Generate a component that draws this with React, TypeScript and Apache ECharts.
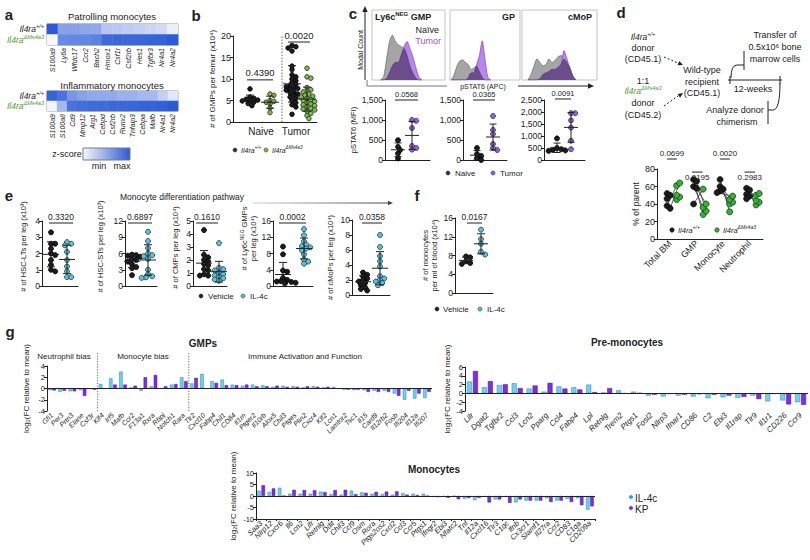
import React, { useEffect, useRef } from 'react';
import * as echarts from 'echarts';

const FF = '"Liberation Sans", Arial, Helvetica, sans-serif';
const AX = '#222222';
const GREEN_TXT = '#4f9a2f';
const BLACK_PT = '#1c1c1c';
const GREEN_PT_B = '#7cc242';
const GREEN_PT_D = '#34b233';
const CYAN_PT = '#5cc3dc';
const PURPLE_PT = '#9b5de5';
const CYAN_BAR = '#6dd0f0';
const PURPLE_BAR = '#7a2fe2';

// ---------- Panel a : heatmaps ----------
const genotypeRows = ['wt', 'ko'];
const patrolGenes = ['S100a9', 'Ly6a', 'Wfdc17', 'Ccr2', 'Bach2', 'Hmox1', 'Csf1r', 'Csf2rb', 'Hes1', 'Tgfbr3', 'Nr4a1', 'Nr4a2'];
const patrolWT = [1.0, 0.55, 0.55, 0.52, 0.5, 0.32, 0.3, 0.28, 0.25, 0.22, 0.18, 0.05];
const patrolKO = [0.0, 0.7, 0.72, 0.72, 0.75, 0.9, 0.92, 0.92, 0.93, 0.95, 0.95, 1.0];
const inflamGenes = ['S100a9', 'S100a8', 'Cd9', 'Mmp12', 'Arg1', 'Cebpd', 'Csf2rb', 'Runx2', 'Tnfaip3', 'Cebpa', 'Mafb', 'Nr4a1', 'Nr4a2'];
const inflamWT = [0.95, 0.85, 0.62, 0.55, 0.5, 0.5, 0.5, 0.45, 0.45, 0.4, 0.4, 0.25, 0.1];
const inflamKO = [0.02, 0.4, 0.85, 0.88, 0.9, 0.9, 0.92, 0.92, 0.93, 0.95, 0.95, 0.97, 1.0];

// ---------- Panel b ----------
const bCategories = ['Naive', 'Tumor'];
const bNaiveWT = [7.7, 5.8, 5.5, 5.3, 5.1, 5.0, 4.9, 4.6, 4.3, 3.8];
const bNaiveKO = [6.5, 6.2, 5.0, 4.8, 4.6, 4.2, 3.3, 2.2];
const bTumorWT = [17.8, 17.5, 17.2, 16.5, 13.0, 12.2, 11.0, 10.5, 10.0, 9.6, 9.2, 8.8, 8.5, 8.2, 8.0, 7.8, 7.6, 7.4, 7.0, 6.8, 6.5, 6.2, 5.8, 5.5, 5.0, 4.5, 4.0, 3.5, 1.8];
const bTumorKO = [12.5, 10.5, 10.2, 8.0, 7.5, 7.2, 7.0, 6.5, 6.2, 6.0, 5.8, 5.5, 5.2, 5.0, 4.8, 4.5, 4.2, 4.0, 3.8, 3.5, 3.2, 3.0, 2.8, 2.5, 2.0, 1.5, 0.8];
const bPvals = ['0.4390', '0.0020'];

// ---------- Panel c ----------
const hGmpX = [0.12, 0.16, 0.2, 0.24, 0.28, 0.32, 0.36, 0.4, 0.44, 0.48, 0.52, 0.56, 0.6, 0.64, 0.68];
const hGmpNaive = [0, 0.05, 0.3, 0.55, 0.64, 0.55, 0.5, 0.48, 0.45, 0.35, 0.2, 0.1, 0.03, 0, 0];
const hGmpTumor = [0, 0, 0.02, 0.1, 0.2, 0.25, 0.25, 0.35, 0.48, 0.55, 0.45, 0.33, 0.18, 0.05, 0];
const hGpX = [0.02, 0.06, 0.1, 0.14, 0.18, 0.22, 0.26, 0.3, 0.34, 0.38, 0.42, 0.46, 0.5, 0.54, 0.58];
const hGpNaive = [0, 0.08, 0.2, 0.27, 0.29, 0.25, 0.22, 0.15, 0.17, 0.2, 0.12, 0.04, 0, 0, 0];
const hGpTumor = [0, 0, 0, 0, 0, 0, 0.03, 0.1, 0.1, 0.22, 0.35, 0.56, 0.3, 0.04, 0];
const hMopX = [0.08, 0.12, 0.16, 0.2, 0.24, 0.28, 0.32, 0.36, 0.4, 0.44, 0.48, 0.52, 0.56, 0.6, 0.64, 0.68, 0.72];
const hMopNaive = [0, 0.08, 0.2, 0.3, 0.25, 0.2, 0.22, 0.3, 0.25, 0.28, 0.33, 0.35, 0.3, 0.25, 0.18, 0.05, 0];
const hMopTumor = [0, 0, 0, 0, 0.02, 0.08, 0.1, 0.12, 0.15, 0.15, 0.18, 0.22, 0.42, 0.3, 0.15, 0.05, 0];
const cMfiNaive = [[495, 330, 250, 165, 40], [300, 150, 100, 50, 0], [900, 500, 450, 420, 400, 380]];
const cMfiTumor = [[1000, 980, 800, 350, 300, 260], [1100, 750, 650, 400, 300, 250], [1950, 1950, 1650, 1350, 800, 450]];
const cYMax = [1500, 1500, 2500];
const cPvals = ['0.0568', '0.0365', '0.0091'];

// ---------- Panel d ----------
const dCategories = ['Total BM', 'GMP', 'Monocyte', 'Neutrophil'];
const dWT = [[52, 50, 46, 38, 35], [68, 66, 60, 58, 40], [68, 60, 57, 55, 53], [58, 56, 51, 49, 46]];
const dKO = [[45, 48, 50, 61, 64], [28, 32, 36, 40, 57], [31, 40, 42, 45, 49], [39, 42, 44, 50, 52]];
const dPvals = ['0.0699', '0.0195', '0.0020', '0.2983'];

// ---------- Panel e / f ----------
const eNames = ['# of HSC-LTs per leg (x10³)', '# of HSC-STs per leg (x10³)', '# of CMPs per leg (x10⁴)', '# of Ly6c{s|NEG} GMPs\nper leg (x10⁴)', '# of cMoPs per leg (x10⁴)'];
const eYMax = [4, 12, 5, 16, 10];
const eYInterval = [1, 3, 1, 4, 2];
const eVehicle = [
  [3.3, 2.6, 2.6, 2.3, 2.0, 1.9, 1.6, 1.3, 1.0, 0.9],
  [5.8, 5.7, 5.6, 5.4, 5.2, 5.0, 4.8, 4.5, 4.0, 3.5, 3.3, 2.0],
  [4.3, 2.4, 2.2, 2.0, 1.9, 1.7, 1.6, 1.3, 1.2, 0.9, 0.8, 0.8],
  [9.7, 7.8, 3.8, 3.5, 2.0, 1.5, 1.2, 1.1, 1.0, 0.9, 0.8, 0.7],
  [3.0, 2.7, 2.5, 2.2, 2.0, 1.8, 1.6, 1.3, 1.0, 0.8, 0.6],
];
const eIL4c = [
  [2.7, 2.6, 2.5, 2.1, 1.6, 1.2, 0.9, 0.55, 0.55],
  [10.0, 8.3, 7.0, 6.0, 5.7, 5.5, 5.0, 3.0, 2.2, 1.8, 1.6, 1.5],
  [3.3, 1.4, 1.3, 1.2, 1.0, 0.9, 0.8, 0.7, 0.6, 0.5, 0.4],
  [14.0, 12.5, 11.0, 10.2, 9.8, 9.5, 9.2, 8.8, 7.8, 6.5, 6.0, 5.5],
  [8.0, 6.4, 5.2, 4.5, 3.8, 2.5, 2.2, 2.0, 1.8, 1.6, 1.3],
];
const ePvals = ['0.3320', '0.6897', '0.1610', '0.0002', '0.0358'];
const fVehicle = [7.8, 7.6, 6.8, 6.4, 6.2];
const fIL4c = [13.5, 11.5, 10.5, 8.8, 8.2];
const fPval = '0.0167';

// ---------- Panel g ----------
const gmpGenes = ['Gfi1', 'Per3', 'Prtn3', 'Elane', 'Csf3r', 'Klf4', 'Irf5', 'Mafb', 'Ccr2', 'F13a1', 'Rxra', 'Rbpj', 'Notch1', 'Rara', 'Tlr2', 'Cxcl10', 'Fabp4', 'Chil1', 'CD84', 'Il1rn', 'Ptger2', 'Il10rb', 'Alox5', 'Chil3', 'Ptges', 'Plin2', 'Cxcr4', 'Klf2', 'Lcn1', 'Lamtor2', 'Tsc1', 'Il15', 'Card9', 'Il12rb2', 'Fosb', 'Ifi204', 'Il12a', 'Ifi207'];
const gmpIL4c = [-0.3, -0.6, -0.5, -0.3, -0.05, 0.8, 1.8, 3.0, 0.2, -0.4, 0.4, 0.05, 0.7, 2.0, 0.9, 2.6, 1.3, 1.6, 0.7, 0.5, 0.7, 0.6, 0.3, 0.5, 0.4, 0.2, 0.4, 0.2, 0.3, -0.2, -0.3, -0.3, -0.4, -0.4, -0.9, -2.0, -1.8, -1.7];
const gmpKP = [-0.35, -0.4, -0.5, -1.3, -0.2, 0.0, 0.7, 0.7, 0.5, 2.0, 2.4, 0.4, 0.8, 1.3, 1.9, 0.0, 1.0, 0.6, 0.6, 0.7, 0.4, 0.4, 0.5, 0.3, 0.3, 0.4, 0.3, 0.3, 0.0, -0.2, -0.2, -0.6, -0.6, -0.6, -1.3, -0.4, -0.9, -0.6];
const gmpGroupBounds = [5, 14];
const preGenes = ['Lilr', 'Dgat2', 'Tgfbr2', 'Ccl3', 'Lcn2', 'Pparg', 'Ccl4', 'Fabp4', 'Lpl', 'Retnlg', 'Trem2', 'Ptgs1', 'Fosl2', 'Nlrp3', 'Ifnar1', 'CD86', 'C2', 'Ebi3', 'Il1rap', 'Tlr9', 'Il1r1', 'CD226', 'Ccr9'];
const preIL4c = [2.7, 1.4, 1.9, 2.3, 1.1, 0.4, 1.6, 1.4, 2.0, 0.2, 0.7, 0.4, -0.5, -0.7, -0.5, -0.7, -1.1, -0.9, -1.0, -0.5, -1.8, -1.6, -2.0];
const preKP = [5.1, 2.8, 2.1, 1.2, 1.8, 2.4, 1.1, 0.9, 0.3, 1.2, 0.0, 0.1, -0.3, -0.1, -0.3, -0.2, -0.3, -0.5, -0.8, -1.3, -0.1, -2.5, -2.6];
const monoGenes = ['Saa3', 'Nlrp12', 'Cxcr6', 'Il6', 'Lcn2', 'Lifr', 'Retnlg', 'Ddit', 'Chil3', 'Ccl9', 'Osm', 'Rora', 'Ptgs2os2', 'Cxcl2', 'Ccl3', 'Ccr5', 'Ptgs1', 'Ifngr2', 'Ebi3', 'Nfatc2', 'Tnf', 'Il12a', 'Cxcl16', 'Tlr3', 'C1qc', 'Ifnb', 'Cx3cr1', 'Slamf1', 'Il27ra', 'Ccr2', 'CD83', 'C1qa', 'CD209a'];
const monoIL4c = [2.3, 1.8, 3.6, 1.0, 1.0, 1.0, 1.9, 0.8, 0.6, 2.3, 1.6, 1.0, 0.9, 0.6, 1.3, 1.0, 1.0, -0.4, -0.3, -0.1, -1.2, -1.8, -0.3, -1.5, -0.4, -2.8, -2.0, -2.0, -1.0, -2.0, -1.3, -1.0, -6.0];
const monoKP = [4.7, 3.3, 0.0, 2.7, 2.6, 2.5, 1.7, 2.6, 2.7, 0.8, 1.4, 1.8, 1.9, 2.0, 0.6, 0.4, 0.0, -0.5, -0.8, -1.4, -0.9, -0.8, -2.8, -1.5, -3.0, -1.5, -2.0, -2.0, -2.6, -2.0, -2.6, -4.0, -4.5];

// ---------- helpers ----------
const avg = (a: number[]) => a.reduce((s, v) => s + v, 0) / a.length;
const sdev = (a: number[]) => { const m = avg(a); return Math.sqrt(a.reduce((s, v) => s + (v - m) * (v - m), 0) / (a.length - 1)); };

function swarm(values: number[], ppu: number, d: number): number[] {
  const placed: number[][] = [];
  return values.map((v) => {
    const y = v * ppu;
    let off = 0;
    for (let k = 0; k < 40; k++) {
      const c = k === 0 ? 0 : (k % 2 ? 1 : -1) * Math.ceil(k / 2) * d * 0.42;
      if (placed.every((p) => (p[0] - c) ** 2 + (p[1] - y) ** 2 >= (d * 0.72) ** 2)) { off = c; break; }
    }
    placed.push([off, y]);
    return off;
  });
}

function richSet(size: number, italic: boolean, bold: boolean) {
  const mk = (color: string) => {
    const base: any = { fontSize: size, fontFamily: FF, fontStyle: italic ? 'italic' : 'normal', fontWeight: bold ? 'bold' : 'normal', color, fill: color, lineHeight: Math.round(size * 1.45) };
    const sup: any = { ...base, fontSize: +(size * 0.66).toFixed(1), verticalAlign: 'top', lineHeight: Math.round(size * 0.8) };
    return [base, sup];
  };
  const [b, s] = mk(AX);
  const [gb, gs] = mk(GREEN_TXT);
  return { b, s, gb, gs };
}

function txt(x: number, y: number, text: string, o: any = {}) {
  const align = o.align ?? 'center';
  const va = o.va ?? 'middle';
  return {
    type: 'text', x, y, rotation: o.rotation ?? 0, silent: true, z: 100,
    style: {
      text, fontSize: o.size ?? 9, fontFamily: FF, fontWeight: o.bold ? 'bold' : 'normal', fontStyle: o.italic ? 'italic' : 'normal',
      fill: o.color ?? AX, align, verticalAlign: va, textAlign: align, textVerticalAlign: va, rich: o.rich,
    },
  };
}
const gline = (x1: number, y1: number, x2: number, y2: number, o: any = {}) => ({
  type: 'line', silent: true, z: 90, shape: { x1, y1, x2, y2 }, style: { stroke: o.color ?? AX, lineWidth: o.w ?? 1, lineDash: o.dash },
});
function arrowHead(x1: number, y1: number, x2: number, y2: number, size: number, color: string) {
  const L = Math.hypot(x2 - x1, y2 - y1);
  const ux = (x2 - x1) / L, uy = (y2 - y1) / L;
  const bx = x2 - ux * size, by = y2 - uy * size;
  const px = -uy * size * 0.45, py = ux * size * 0.45;
  return { type: 'polygon', silent: true, z: 90, shape: { points: [[x2, y2], [bx + px, by + py], [bx - px, by - py]] }, style: { fill: color } };
}
const dot = (cx: number, cy: number, r: number, fill: string, stroke?: string) => ({
  type: 'circle', silent: true, z: 95, shape: { cx, cy, r }, style: { fill, stroke: stroke ?? fill, lineWidth: 0.6 },
});

function buildOption() {
  const grid: any[] = [], xAxis: any[] = [], yAxis: any[] = [], series: any[] = [], graphic: any[] = [];
  const addGrid = (left: number, top: number, width: number, height: number, extra: any = {}) => { grid.push({ left, top, width, height, ...extra }); return grid.length - 1; };
  const addX = (o: any) => { xAxis.push(o); return xAxis.length - 1; };
  const addY = (o: any) => { yAxis.push(o); return yAxis.length - 1; };
  const yName = (name: string, gap: number, size: number, rich?: any, shiftUp = 0) => ({
    name, nameLocation: 'middle', nameRotate: 90, nameGap: gap,
    nameTextStyle: { fontSize: size, color: AX, fontFamily: FF, lineHeight: Math.round(size * 1.25), rich, padding: shiftUp > 0 ? [0, 0, 0, shiftUp * 2] : shiftUp < 0 ? [0, -shiftUp * 2, 0, 0] : 0 },
  });
  const valY = (g: number, min: number, max: number, interval: number, tick: number, extra: any = {}) => addY({
    type: 'value', gridIndex: g, min, max, interval,
    axisLine: { show: true, onZero: false, lineStyle: { color: AX, width: 1 } },
    axisTick: { show: true, length: 3, lineStyle: { color: AX } },
    axisLabel: { fontSize: tick, color: AX, fontFamily: FF, margin: 2 },
    splitLine: { show: false }, ...extra,
  });

  const meanSd = (xi: number, yi: number, groups: any[], half: number, cap: number) => ({
    type: 'custom', xAxisIndex: xi, yAxisIndex: yi, silent: true, z: 6,
    data: groups.map((g) => [g.x, avg(g.values), sdev(g.values)]),
    renderItem: (_p: any, api: any) => {
      const x = api.value(0), m = api.value(1), s = api.value(2);
      const c = api.coord([x, m]), t = api.coord([x, m + s]), b = api.coord([x, m - s]);
      const st = { stroke: AX, lineWidth: 1 };
      return {
        type: 'group', children: [
          { type: 'line', shape: { x1: c[0] - half, y1: c[1], x2: c[0] + half, y2: c[1] }, style: st },
          { type: 'line', shape: { x1: t[0], y1: t[1], x2: b[0], y2: b[1] }, style: st },
          { type: 'line', shape: { x1: t[0] - cap, y1: t[1], x2: t[0] + cap, y2: t[1] }, style: st },
          { type: 'line', shape: { x1: b[0] - cap, y1: b[1], x2: b[0] + cap, y2: b[1] }, style: st },
        ],
      };
    },
  });
  const pvalSeries = (xi: number, yi: number, items: any[], size: number) => ({
    type: 'custom', xAxisIndex: xi, yAxisIndex: yi, silent: true, z: 7, clip: false,
    data: items.map((it) => [it.x1, it.x2, it.y, it.dy ?? -2]),
    renderItem: (p: any, api: any) => {
      const it = items[p.dataIndex];
      const a = api.coord([api.value(0), api.value(2)]), b = api.coord([api.value(1), api.value(2)]);
      const dy = api.value(3);
      return {
        type: 'group', children: [
          { type: 'line', shape: { x1: a[0], y1: a[1], x2: b[0], y2: b[1] }, style: { stroke: AX, lineWidth: 1 } },
          { type: 'text', x: (a[0] + b[0]) / 2, y: a[1] + dy, style: { text: it.text, fontSize: size, fontFamily: FF, fill: AX, align: 'center', verticalAlign: dy < 0 ? 'bottom' : 'top' } },
        ],
      };
    },
  });
  const dotPlot = (o: any) => {
    const g = addGrid(o.left, o.top, o.width, o.height);
    const xi = addX({ type: 'value', gridIndex: g, min: 0, max: o.width, position: 'bottom', axisLine: { show: o.xLine !== false, onZero: false, lineStyle: { color: AX } }, axisTick: { show: false }, axisLabel: { show: false }, splitLine: { show: false } });
    const yi = valY(g, 0, o.yMax, o.yInt, o.tick ?? 8.5, o.name ? yName(o.name, o.nameGap, o.nameSize ?? 7.5, o.nameRich, o.nameShift ?? 0) : {});
    const ppu = o.height / o.yMax;
    o.groups.forEach((gr: any) => {
      const offs = swarm(gr.values, ppu, o.sym);
      series.push({ type: 'scatter', xAxisIndex: xi, yAxisIndex: yi, symbolSize: o.sym, silent: true, z: 3, data: gr.values.map((v: number, i: number) => [gr.x + offs[i], v]), itemStyle: { color: gr.fill, borderColor: gr.stroke, borderWidth: 0.8, opacity: 1 } });
    });
    series.push(meanSd(xi, yi, o.groups, o.half, o.cap));
    series.push(pvalSeries(xi, yi, o.pvals, o.pSize));
    return g;
  };

  // ================= Panel a =================
  const heatIdx: number[] = [];
  const genoRich = richSet(8.5, true, false);
  const heat = (top: number, height: number, genes: string[], wt: number[], ko: number[]) => {
    const g = addGrid(47, top, 131, height, { show: true, borderColor: '#8a8a8a', borderWidth: 1 });
    const xi = addX({ type: 'category', gridIndex: g, data: genes, position: 'bottom', axisLine: { show: false }, axisTick: { show: false }, axisLabel: { rotate: 90, interval: 0, fontSize: 7, fontStyle: 'italic', fontFamily: FF, color: AX, margin: 3 }, splitLine: { show: false } });
    const yi = addY({ type: 'category', gridIndex: g, data: genotypeRows, inverse: true, axisLine: { show: false }, axisTick: { show: false }, axisLabel: { margin: 3, interval: 0, formatter: (v: string) => (v === 'wt' ? '{b|Il4ra}{s|+/+}' : '{gb|Il4ra}{gs|ΔMs4a3}'), rich: genoRich } });
    const data: any[] = [];
    genes.forEach((_g, i) => { data.push([i, 0, wt[i]]); data.push([i, 1, ko[i]]); });
    series.push({ type: 'heatmap', xAxisIndex: xi, yAxisIndex: yi, data, silent: true, itemStyle: { borderWidth: 0 } });
    heatIdx.push(series.length - 1);
  };
  heat(24, 21, patrolGenes, patrolWT, patrolKO);
  heat(91, 20, inflamGenes, inflamWT, inflamKO);
  graphic.push(txt(9, 14, 'a', { size: 15, bold: true }));
  graphic.push(txt(112, 16, 'Patrolling monocytes', { size: 9.5 }));
  graphic.push(txt(112, 85, 'Inflammatory monocytes', { size: 9.5 }));
  graphic.push(txt(67, 154, 'z-score', { size: 9 }));
  graphic.push({ type: 'rect', silent: true, z: 90, shape: { x: 83, y: 148, width: 47, height: 12 }, style: { fill: new echarts.graphic.LinearGradient(0, 0, 1, 0, [{ offset: 0, color: '#f7f7fd' }, { offset: 1, color: '#2b5bd6' }]), stroke: '#7a7a7a', lineWidth: 1 } });
  graphic.push(txt(99, 166, 'min', { size: 9 }));
  graphic.push(txt(122, 166, 'max', { size: 9 }));

  // ================= Panel b =================
  const gB = dotPlot({
    left: 233, top: 36, width: 84, height: 86, yMax: 20, yInt: 5, tick: 9, xLine: false,
    name: '# of GMPs per femur (x10⁴)', nameGap: 13, nameSize: 8, sym: 4.6, half: 9, cap: 4, pSize: 9.5,
    groups: [
      { values: bNaiveWT, x: 17, fill: BLACK_PT, stroke: '#000' },
      { values: bNaiveKO, x: 37, fill: GREEN_PT_B, stroke: '#223' },
      { values: bTumorWT, x: 59, fill: BLACK_PT, stroke: '#000' },
      { values: bTumorKO, x: 74, fill: GREEN_PT_B, stroke: '#223' },
    ],
    pvals: [{ x1: 14, x2: 40, y: 9.8, text: bPvals[0] }, { x1: 55, x2: 77, y: 18.6, text: bPvals[1] }],
  });
  addX({ type: 'category', gridIndex: gB, position: 'bottom', data: bCategories, axisLine: { show: true, onZero: false, lineStyle: { color: AX } }, axisTick: { show: false }, axisLabel: { margin: 4, interval: 0, color: AX, formatter: (v: string) => (v === 'Naive' ? '{n|Naive}' : '{t|Tumor}'), rich: { n: { fontSize: 10, fontFamily: FF, color: AX, padding: [0, 0, 0, 14] }, t: { fontSize: 10, fontFamily: FF, color: AX } } } });
  {
    const xiB = xAxis.findIndex((a) => a.gridIndex === gB && a.type === 'value');
    const yiB = yAxis.findIndex((a) => a.gridIndex === gB);
    series.push({
      type: 'custom', xAxisIndex: xiB, yAxisIndex: yiB, silent: true, z: 2, data: [[49]],
      renderItem: (_p: any, api: any) => {
        const b = api.coord([api.value(0), 0]), t = api.coord([api.value(0), 20]);
        return { type: 'line', shape: { x1: b[0], y1: b[1], x2: t[0], y2: t[1] }, style: { stroke: '#666', lineWidth: 1, lineDash: [1.5, 1.5] } };
      },
    });
  }
  graphic.push(txt(196, 15, 'b', { size: 15, bold: true }));
  const legRich7 = richSet(7, true, false);
  graphic.push(dot(235, 150, 2, '#333'));
  graphic.push(txt(241, 150, '{b|Il4ra}{s|+/+}', { align: 'left', rich: legRich7 }));
  graphic.push(dot(266, 150, 2, GREEN_PT_B, '#333'));
  graphic.push(txt(272, 150, '{b|Il4ra}{s|ΔMs4a3}', { align: 'left', rich: legRich7 }));

  // ================= Panel c =================
  const hist = (left: number, width: number, xs: number[], naive: number[], tumor: number[]) => {
    const g = addGrid(left, 10, width, 70, { show: true, borderColor: '#c4c4c4', borderWidth: 1 });
    const xi = addX({ type: 'value', gridIndex: g, min: 0, max: 1, show: false });
    const yi = addY({ type: 'value', gridIndex: g, min: 0, max: 1, show: false });
    const overlap = xs.map((_x, i) => Math.min(naive[i], tumor[i]));
    const mk = (ys: number[], fill: string, stroke: string, z: number) => ({
      type: 'line', xAxisIndex: xi, yAxisIndex: yi, silent: true, smooth: 0.25, symbol: 'none', z,
      data: xs.map((x, i) => [x, ys[i]]), lineStyle: { color: stroke, width: 0.7 }, areaStyle: { color: fill, opacity: 1 },
    });
    series.push(mk(naive, '#a5a5a5', '#6a6a6a', 2));
    series.push(mk(tumor, '#b987ea', '#7b45c0', 3));
    series.push(mk(overlap, '#6c4d8c', '#5a3c78', 4));
  };
  hist(372, 73, hGmpX, hGmpNaive, hGmpTumor);
  hist(450, 70, hGpX, hGpNaive, hGpTumor);
  hist(522, 75, hMopX, hMopNaive, hMopTumor);
  graphic.push(txt(353, 13, 'c', { size: 15, bold: true }));
  graphic.push(gline(365, 80, 365, 12));
  graphic.push(arrowHead(365, 80, 365, 6, 6, AX));
  graphic.push({ type: 'polyline', silent: true, z: 90, shape: { points: [[367, 80], [367, 86], [447, 86]] }, style: { stroke: '#777', lineWidth: 1, fill: null } });
  graphic.push(gline(518, 86, 588, 86));
  graphic.push(arrowHead(518, 86, 594, 86, 6, AX));
  graphic.push(txt(360, 50, 'Modal Count', { size: 7, rotation: Math.PI / 2 }));
  graphic.push(txt(483, 86.5, 'pSTAT6 (APC)', { size: 7 }));
  const boldRich = { b: { fontSize: 9, fontWeight: 'bold', fontFamily: FF, fill: AX, color: AX, lineHeight: 13 }, s: { fontSize: 6, fontWeight: 'bold', fontFamily: FF, fill: AX, color: AX, verticalAlign: 'top', lineHeight: 7 } };
  graphic.push(txt(375, 17, '{b|Ly6c}{s|NEG}{b| GMP}', { align: 'left', rich: boldRich }));
  graphic.push(txt(439, 30, 'Naïve', { size: 9, align: 'right' }));
  graphic.push(txt(441, 41, 'Tumor', { size: 9, align: 'right', color: '#9b4fe0' }));
  graphic.push(txt(515, 17, 'GP', { size: 9, bold: true, align: 'right' }));
  graphic.push(txt(592, 17, 'cMoP', { size: 9, bold: true, align: 'right' }));
  const cLayout = [
    { left: 385, width: 45, nx: 13, tx: 27, p: [10, 33] },
    { left: 463, width: 44, nx: 14, tx: 30, p: [10, 32] },
    { left: 544, width: 41, nx: 13, tx: 27, p: [11, 27] },
  ];
  cLayout.forEach((L, i) => {
    dotPlot({
      left: L.left, top: 100, width: L.width, height: 60, yMax: cYMax[i], yInt: 500, tick: 8.5,
      name: i === 0 ? 'pSTAT6 (MFI)' : undefined, nameGap: 23, nameSize: 7.5, sym: 5, half: 7, cap: 3.5, pSize: 7.5,
      groups: [
        { values: cMfiNaive[i], x: L.nx, fill: BLACK_PT, stroke: '#000' },
        { values: cMfiTumor[i], x: L.tx, fill: PURPLE_PT, stroke: '#333' },
      ],
      pvals: [{ x1: L.p[0], x2: L.p[1], y: cYMax[i] * (i === 2 ? 1.017 : 1.0), text: cPvals[i], dy: -1.5 }],
    });
  });
  graphic.push(dot(448, 173, 2, '#333'));
  graphic.push(txt(455, 173, 'Naive', { size: 8, align: 'left' }));
  graphic.push(dot(493, 173, 2, PURPLE_PT, '#333'));
  graphic.push(txt(500, 173, 'Tumor', { size: 8, align: 'left' }));

  // ================= Panel d =================
  graphic.push(txt(621, 12, 'd', { size: 15, bold: true }));
  const dRich = richSet(8.5, true, false);
  graphic.push(txt(643, 37, '{b|Il4ra}{s|+/+}', { rich: dRich }));
  graphic.push(txt(643, 48, 'donor', { size: 9 }));
  graphic.push(txt(643, 59, '(CD45.1)', { size: 9 }));
  graphic.push(txt(643, 81, '1:1', { size: 9 }));
  graphic.push(txt(643, 91, '{gb|Il4ra}{gs|ΔMs4a3}', { rich: dRich }));
  graphic.push(txt(643, 103, 'donor', { size: 9 }));
  graphic.push(txt(643, 115, '(CD45.2)', { size: 9 }));
  graphic.push(txt(702, 70, 'Wild-type', { size: 9 }));
  graphic.push(txt(702, 82, 'recipient', { size: 9 }));
  graphic.push(txt(702, 93, '(CD45.1)', { size: 9 }));
  graphic.push(txt(775, 35, 'Transfer of', { size: 9 }));
  graphic.push(txt(775, 47, '0.5x10⁶ bone', { size: 9 }));
  graphic.push(txt(775, 59, 'marrow cells', { size: 9 }));
  graphic.push(txt(753, 89, '12-weeks', { size: 9 }));
  graphic.push(txt(735, 110, 'Analyze donor', { size: 9 }));
  graphic.push(txt(737, 122, 'chimerism', { size: 9 }));
  graphic.push(gline(664, 57, 678, 63, { dash: [2, 2] }));
  graphic.push(arrowHead(664, 57, 683, 65, 5, AX));
  graphic.push(gline(664, 106, 678, 96, { dash: [2, 2] }));
  graphic.push(arrowHead(664, 106, 683, 93, 5, AX));
  graphic.push(gline(728, 80, 782, 80));
  graphic.push(gline(730, 76, 730, 84));
  graphic.push(gline(780, 76, 780, 84));
  graphic.push({ type: 'bezierCurve', silent: true, z: 90, shape: { x1: 731, y1: 78, cpx1: 731, cpy1: 65, x2: 737, y2: 65 }, style: { stroke: AX, lineWidth: 1, fill: null } });
  graphic.push(gline(737, 65, 744, 65));
  graphic.push(gline(744, 51, 744, 70));
  graphic.push({ type: 'bezierCurve', silent: true, z: 90, shape: { x1: 780, y1: 83, cpx1: 780, cpy1: 110, x2: 773, y2: 110 }, style: { stroke: AX, lineWidth: 1, fill: null } });
  graphic.push(gline(773, 110, 768, 110));
  graphic.push(gline(768, 101, 768, 124));

  {
    const gD = addGrid(657, 169, 106, 70);
    addX({ type: 'category', gridIndex: gD, position: 'bottom', data: dCategories, axisLine: { show: true, onZero: false, lineStyle: { color: AX } }, axisTick: { show: false }, axisLabel: { rotate: 45, interval: 0, fontSize: 9, color: AX, fontFamily: FF, margin: 3 } });
    const xv = addX({ type: 'value', gridIndex: gD, min: 0, max: 4, show: false });
    const yv = valY(gD, 0, 80, 20, 9, yName('% of parent', 15, 8.5));
    const ppu = 70 / 80, unit = 106 / 4;
    const wtPts: any[] = [], koPts: any[] = [], pairs: any[] = [];
    dCategories.forEach((_c, ci) => {
      const ow = swarm(dWT[ci], ppu, 6), ok = swarm(dKO[ci], ppu, 6);
      dWT[ci].forEach((v, k) => {
        const xw = ci + 0.38 + ow[k] / unit * 0.6, xk = ci + 0.74 + ok[k] / unit * 0.6;
        wtPts.push([xw, v]); koPts.push([xk, dKO[ci][k]]);
        pairs.push([xw, v, xk, dKO[ci][k]]);
      });
    });
    series.push({
      type: 'custom', xAxisIndex: xv, yAxisIndex: yv, silent: true, z: 2, data: pairs,
      renderItem: (_p: any, api: any) => {
        const a = api.coord([api.value(0), api.value(1)]), b = api.coord([api.value(2), api.value(3)]);
        return { type: 'line', shape: { x1: a[0], y1: a[1], x2: b[0], y2: b[1] }, style: { stroke: '#333', lineWidth: 0.8 } };
      },
    });
    series.push({ type: 'scatter', xAxisIndex: xv, yAxisIndex: yv, symbolSize: 6, silent: true, z: 3, data: wtPts, itemStyle: { color: BLACK_PT, borderColor: '#000', borderWidth: 0.6, opacity: 1 } });
    series.push({ type: 'scatter', xAxisIndex: xv, yAxisIndex: yv, symbolSize: 6, silent: true, z: 3, data: koPts, itemStyle: { color: GREEN_PT_D, borderColor: '#1d3b1d', borderWidth: 0.8, opacity: 1 } });
    series.push(pvalSeries(xv, yv, [
      { x1: 0.38, x2: 0.75, y: 91.4, text: dPvals[0] },
      { x1: 1.32, x2: 1.72, y: 76.5, text: dPvals[1], dy: 1 },
      { x1: 2.38, x2: 2.75, y: 91.4, text: dPvals[2] },
      { x1: 3.3, x2: 3.7, y: 76.5, text: dPvals[3], dy: 1 },
    ], 8));
  }
  graphic.push(dot(672, 230, 2.2, BLACK_PT));
  graphic.push(txt(678, 230, '{b|Il4ra}{s|+/+}', { align: 'left', rich: richSet(7.5, true, false) }));
  graphic.push(dot(717, 230, 2.2, GREEN_PT_D, '#1d3b1d'));
  graphic.push(txt(723, 230, '{b|Il4ra}{s|ΔMs4a3}', { align: 'left', rich: richSet(7.5, true, false) }));

  // ================= Panel e =================
  graphic.push(txt(9, 195, 'e', { size: 15, bold: true }));
  graphic.push(txt(182, 197, 'Monocyte differentiation pathway', { size: 8.5 }));
  graphic.push({ type: 'line', silent: true, z: 90, shape: { x1: 253, y1: 203, x2: 388, y2: 203 }, style: { stroke: new echarts.graphic.LinearGradient(253, 0, 388, 0, [{ offset: 0, color: '#d0d0d0' }, { offset: 1, color: '#444' }], true), lineWidth: 1.2 } });
  graphic.push(arrowHead(253, 203, 393, 203, 5, '#444'));
  const eLayout = [
    { left: 42, top: 221, width: 36, height: 65, vx: 9, ix: 25, gap: 14, p: [7, 31], up: 7 },
    { left: 125, top: 221, width: 32, height: 65, vx: 7, ix: 23, gap: 20, p: [3, 27], up: 7 },
    { left: 193, top: 221, width: 34, height: 65, vx: 11, ix: 26, gap: 13, p: [3, 25], up: 6 },
    { left: 273, top: 221, width: 40, height: 65, vx: 10, ix: 31, gap: 14, p: [6, 33], up: 15 },
    { left: 352, top: 220, width: 38, height: 75, vx: 11, ix: 28, gap: 17, p: [10, 30], up: 0 },
  ];
  eLayout.forEach((L, i) => {
    dotPlot({
      left: L.left, top: L.top, width: L.width, height: L.height, yMax: eYMax[i], yInt: eYInterval[i], tick: 8.5,
      name: eNames[i], nameGap: L.gap, nameSize: 7.5, nameShift: L.up, nameRich: { s: { fontSize: 5, fontFamily: FF, color: AX, verticalAlign: 'top', lineHeight: 6 } },
      sym: 5, half: 8, cap: 4, pSize: 8.5,
      groups: [
        { values: eVehicle[i], x: L.vx, fill: BLACK_PT, stroke: '#000' },
        { values: eIL4c[i], x: L.ix, fill: CYAN_PT, stroke: '#1e3440' },
      ],
      pvals: [{ x1: L.p[0], x2: L.p[1], y: eYMax[i] * (L.top + L.height - 223) / L.height, text: ePvals[i] }],
    });
  });
  graphic.push(dot(201, 296, 2, '#222'));
  graphic.push(txt(208, 296, 'Vehicle', { size: 8, align: 'left' }));
  graphic.push(dot(243, 296, 2, CYAN_PT, '#1e3440'));
  graphic.push(txt(250, 296, 'IL-4c', { size: 8, align: 'left' }));

  // ================= Panel f =================
  graphic.push(txt(417, 195, 'f', { size: 15, bold: true }));
  dotPlot({
    left: 455, top: 218, width: 38, height: 75, yMax: 16, yInt: 4, tick: 8.5,
    name: '# of monocytes\nper ml of blood (x10⁴)', nameGap: 16, nameSize: 7.5,
    sym: 5, half: 7, cap: 4, pSize: 8.5,
    groups: [
      { values: fVehicle, x: 11, fill: BLACK_PT, stroke: '#000' },
      { values: fIL4c, x: 26, fill: CYAN_PT, stroke: '#1e3440' },
    ],
    pvals: [{ x1: 12, x2: 27, y: 16 * (293 - 223) / 75, text: fPval }],
  });
  graphic.push(dot(437, 309, 2, '#222'));
  graphic.push(txt(443, 309, 'Vehicle', { size: 8, align: 'left' }));
  graphic.push(dot(480, 309, 2, CYAN_PT, '#1e3440'));
  graphic.push(txt(487, 309, 'IL-4c', { size: 8, align: 'left' }));

  // ================= Panel g =================
  const barChart = (o: any) => {
    const g = addGrid(o.left, o.top, o.width, o.height);
    const xi = addX({ type: 'category', gridIndex: g, position: 'bottom', data: o.genes, axisLine: { show: o.bottomLine, onZero: false, lineStyle: { color: AX } }, axisTick: { show: o.bottomLine, length: 2, lineStyle: { color: AX } }, axisLabel: { rotate: 45, interval: 0, fontSize: o.labelSize, fontStyle: 'italic', fontFamily: FF, color: AX, margin: 3 } });
    const yi = valY(g, o.min, o.max, o.interval, 7.5, yName('log₂(FC relative to mean)', o.gap, 8));
    series.push({
      type: 'bar', xAxisIndex: xi, yAxisIndex: yi, data: o.a, barWidth: o.bw, barGap: '20%', silent: true,
      itemStyle: { color: CYAN_BAR, borderColor: '#2f86a8', borderWidth: 0.5 },
      markLine: { silent: true, symbol: 'none', label: { show: false }, data: [{ yAxis: 0 }], lineStyle: { color: AX, width: 1, type: 'solid' } },
    });
    series.push({ type: 'bar', xAxisIndex: xi, yAxisIndex: yi, data: o.b, barWidth: o.bw, barGap: '20%', silent: true, itemStyle: { color: PURPLE_BAR, borderColor: '#4d149e', borderWidth: 0.5 } });
    return { g, yi };
  };
  const gm = barChart({ left: 47, top: 366, width: 385, height: 45, genes: gmpGenes, a: gmpIL4c, b: gmpKP, min: -4, max: 4, interval: 2, bw: 3.5, labelSize: 7, gap: 16, bottomLine: false });
  {
    const xv = addX({ type: 'value', gridIndex: gm.g, min: 0, max: gmpGenes.length, show: false });
    series.push({
      type: 'custom', xAxisIndex: xv, yAxisIndex: gm.yi, silent: true, z: 1, clip: false, data: gmpGroupBounds.map((b) => [b]),
      renderItem: (_p: any, api: any) => {
        const b = api.coord([api.value(0), -4]), t = api.coord([api.value(0), 4]);
        return { type: 'line', shape: { x1: b[0], y1: b[1], x2: t[0], y2: t[1] - 13 }, style: { stroke: '#666', lineWidth: 1, lineDash: [1.2, 1.5] } };
      },
    });
  }
  barChart({ left: 465, top: 367, width: 343, height: 44, genes: preGenes, a: preIL4c, b: preKP, min: -4, max: 6, interval: 2, bw: 5, labelSize: 8, gap: 9, bottomLine: false });
  barChart({ left: 256, top: 473, width: 339, height: 46, genes: monoGenes, a: monoIL4c, b: monoKP, min: -10, max: 10, interval: 5, bw: 3.5, labelSize: 7.5, gap: 18, bottomLine: true });
  graphic.push(txt(10, 331, 'g', { size: 15, bold: true }));
  graphic.push(txt(203, 343, 'GMPs', { size: 10, bold: true }));
  graphic.push(txt(64, 356, 'Neutrophil bias', { size: 8 }));
  graphic.push(txt(143, 356, 'Monocyte bias', { size: 8 }));
  graphic.push(txt(305, 356, 'Immune Activation and Function', { size: 8 }));
  graphic.push(txt(627, 342, 'Pre-monocytes', { size: 10, bold: true }));
  graphic.push(txt(434, 469, 'Monocytes', { size: 10, bold: true }));
  graphic.push(dot(631, 497, 1.8, '#2ba6d6'));
  graphic.push(txt(635, 498, 'IL-4c', { size: 10, align: 'left' }));
  graphic.push(dot(631, 508, 1.8, PURPLE_BAR));
  graphic.push(txt(635, 509, 'KP', { size: 10, align: 'left' }));

  return {
    animation: false,
    backgroundColor: '#ffffff',
    textStyle: { fontFamily: FF },
    grid, xAxis, yAxis, series,
    visualMap: [{ type: 'continuous', show: false, min: 0, max: 1, dimension: 2, seriesIndex: heatIdx, inRange: { color: ['#f7f7fd', '#2b5bd6'] } }],
    graphic: { elements: graphic },
  };
}

export default function App() {
  const ref = useRef<HTMLDivElement>(null);
  useEffect(() => {
    if (!ref.current) return;
    const chart = echarts.init(ref.current, null, { renderer: 'svg' });
    chart.setOption(buildOption() as any);
    return () => chart.dispose();
  }, []);
  return <div ref={ref} style={{ position: 'fixed', left: 0, top: 0, width: 810, height: 560, background: '#fff' }} />;
}
